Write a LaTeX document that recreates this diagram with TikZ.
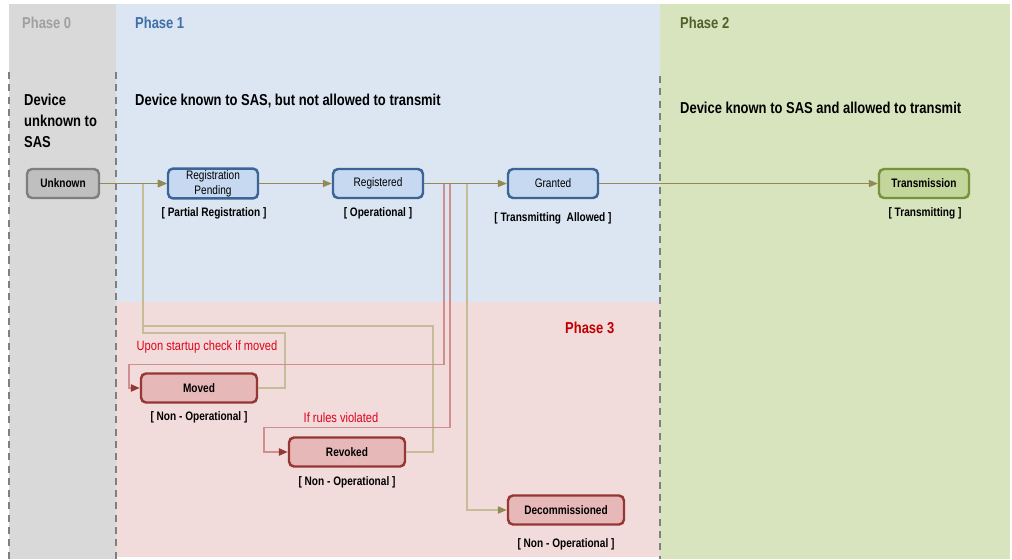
\documentclass[tikz,border=0pt]{standalone}
\usepackage{fontspec}
\setmainfont[FakeStretch=0.82]{Liberation Sans}
\usetikzlibrary{arrows.meta}

\definecolor{zerobg}{HTML}{D9D9D9}
\definecolor{onebg}{HTML}{DCE6F2}
\definecolor{twobg}{HTML}{D7E4BD}
\definecolor{threebg}{HTML}{F2DCDB}
\definecolor{zerotext}{HTML}{A0A0A0}
\definecolor{onetext}{HTML}{3F6FA8}
\definecolor{twotext}{HTML}{4F6228}
\definecolor{threetext}{HTML}{C00000}
\definecolor{notetext}{HTML}{E0001A}
\definecolor{unkfill}{HTML}{BFBFBF}
\definecolor{unkdraw}{HTML}{7F7F7F}
\definecolor{bluefill}{HTML}{C6D9F1}
\definecolor{bluedraw}{HTML}{3A6596}
\definecolor{greenfill}{HTML}{C3D69B}
\definecolor{greendraw}{HTML}{77933C}
\definecolor{redfill}{HTML}{E6B9B8}
\definecolor{reddraw}{HTML}{953735}
\definecolor{olive}{HTML}{938953}
\definecolor{beige}{HTML}{C4BD97}
\definecolor{rose}{HTML}{CF8F8E}
\definecolor{dashgray}{HTML}{808080}

\begin{document}
\begin{tikzpicture}[x=0.02cm, y=-0.02cm,
	state/.style = {draw, rounded corners=0.1cm, line width=1.4pt, minimum width=1.8cm, minimum height=0.58cm, inner sep=1pt, align=center, font=\fontsize{7}{8.5}\selectfont},
	phasebox/.style = {anchor=west, font=\fontsize{9}{11}\selectfont\bfseries},
	remark/.style = {font=\fontsize{7}{8.5}\selectfont\bfseries},
	heading/.style = {anchor=west, font=\fontsize{9}{12}\selectfont\bfseries},
	note/.style = {text=notetext, font=\fontsize{7.7}{10}\selectfont},
	flow/.style = {olive, line width=0.6pt, -{Triangle[length=5pt, width=4pt]}},
	back/.style = {beige, line width=0.9pt, -{Triangle[length=5pt, width=4pt, color=olive]}},
	revoke/.style = {rose, line width=1pt, -{Triangle[length=5pt, width=4pt, color=reddraw]}},
	border/.style = {dashgray, line width=1.1pt, dash pattern=on 4pt off 3pt}]
	\useasboundingbox (0, 0) rectangle (1012, 559);
	
	% phase areas
	\fill[zerobg] (9, 4) rectangle (116, 559);
	\fill[onebg] (116, 4) rectangle (660, 302);
	\fill[threebg] (116, 302) rectangle (660, 557);
	\fill[twobg] (660, 4) rectangle (1010, 559);
	\draw[border] (9, 72) -- (9, 559);
	\draw[border] (116, 72) -- (116, 559);
	\draw[border] (660, 76) -- (660, 559);
	
	\node[phasebox, text=zerotext] (p0) at (16, 23) {Phase 0};
	\node[phasebox, text=onetext] (p1) at (129, 23) {Phase 1};
	\node[phasebox, text=twotext] (p2) at (674, 23) {Phase 2};
	\node[phasebox, text=threetext] (p3) at (559, 328) {Phase 3};
	
	\node[heading, anchor=north west, align=left] (h0) at (18, 88) {Device\\unknown to\\SAS};
	\node[heading] (h1) at (129, 101) {Device known to SAS, but not allowed to transmit};
	\node[heading] (h2) at (674, 108) {Device known to SAS and allowed to transmit};
	
	% states
	\node[state, draw=unkdraw, fill=unkfill, minimum width=1.44cm, font=\fontsize{7}{8.5}\selectfont\bfseries] (unknown) at (63, 183.5) {Unknown};
	\node[state, draw=bluedraw, fill=bluefill] (pending) at (213, 183.5) {Registration\\Pending};
	\node[state, draw=bluedraw, fill=bluefill] (registered) at (378, 183.5) {Registered};
	\node[state, draw=bluedraw, fill=bluefill] (granted) at (553, 183.5) {Granted};
	\node[state, draw=greendraw, fill=greenfill, font=\fontsize{7}{8.5}\selectfont\bfseries] (transmission) at (924, 183.5) {Transmission};
	\node[state, draw=reddraw, fill=redfill, minimum width=2.32cm, font=\fontsize{7}{8.5}\selectfont\bfseries] (moved) at (199, 388) {Moved};
	\node[state, draw=reddraw, fill=redfill, minimum width=2.32cm, font=\fontsize{7}{8.5}\selectfont\bfseries] (revoked) at (347, 452) {Revoked};
	\node[state, draw=reddraw, fill=redfill, minimum width=2.32cm, font=\fontsize{7}{8.5}\selectfont\bfseries] (decommissioned) at (566, 510) {Decommissioned};
	
	\node[remark] (pendingnote) at (214, 213) {[ Partial Registration ]};
	\node[remark] (registerednote) at (378, 213) {[ Operational ]};
	\node[remark] (grantednote) at (553, 218) {[ Transmitting\ \ Allowed ]};
	\node[remark] (transmissionnote) at (925, 213) {[ Transmitting ]};
	\node[remark] (movednote) at (199, 417) {[ Non - Operational ]};
	\node[remark] (revokednote) at (347, 482) {[ Non - Operational ]};
	\node[remark] (decommissionednote) at (566, 544) {[ Non - Operational ]};
	
	\node[note] (movecheck) at (207, 347) {Upon startup check if moved};
	\node[note] (rulecheck) at (341, 418) {If rules violated};
	
	% transitions
	\draw[back] (moved.east) -- ++(27, 0) -- ++(0, -55) -- ++(-142, 0) |- (pending);
	\draw[back] (revoked.east) -- ++(27, 0) -- ++(0, -126) -- ++(-290, 0) |- (pending);
	\draw[revoke] (registered.east) -- ++(20, 0) -- ++(0, 181) -- ++(-315, 0) |- (moved);
	\draw[revoke] (registered.east) -- ++(26, 0) -- ++(0, 244) -- ++(-186, 0) |- (revoked);
	\draw[back] (registered.east) -- ++(43, 0) |- (decommissioned);
	\draw[flow] (unknown) -- (pending);
	\draw[flow] (pending) -- (registered);
	\draw[flow] (registered) -- (granted);
	\draw[flow] (granted) -- (transmission);
\end{tikzpicture}
\end{document}
